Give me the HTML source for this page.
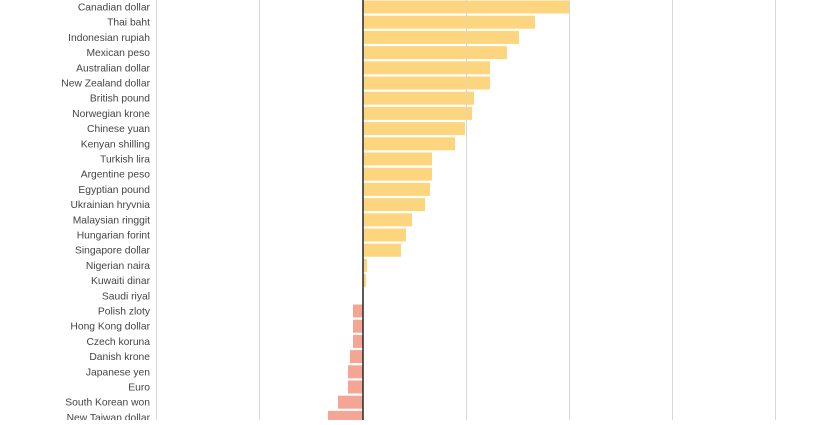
<!DOCTYPE html>
<html><head><meta charset="utf-8"><style>
body{margin:0;background:#fff;width:840px;height:420px;overflow:hidden;font-family:"Liberation Sans",sans-serif;}
</style></head><body>
<svg width="840" height="420" xmlns="http://www.w3.org/2000/svg" font-family="Liberation Sans, sans-serif" font-size="10.3" fill="#444">
<g stroke="#d6d6d6" stroke-width="1">
<line x1="156.5" y1="0" x2="156.5" y2="420"/><line x1="259.5" y1="0" x2="259.5" y2="420"/>
<line x1="466.5" y1="0" x2="466.5" y2="420"/><line x1="569.5" y1="0" x2="569.5" y2="420"/>
<line x1="672.5" y1="0" x2="672.5" y2="420"/><line x1="775.5" y1="0" x2="775.5" y2="420"/>
</g>
<g fill="#fdd57e">
<rect x="363" y="0.5" width="206" height="13"/>
<rect x="363" y="15.7" width="172" height="13"/>
<rect x="363" y="30.9" width="156" height="13"/>
<rect x="363" y="46.1" width="144" height="13"/>
<rect x="363" y="61.3" width="127" height="13"/>
<rect x="363" y="76.5" width="127" height="13"/>
<rect x="363" y="91.7" width="111" height="13"/>
<rect x="363" y="106.9" width="109" height="13"/>
<rect x="363" y="122.1" width="102" height="13"/>
<rect x="363" y="137.3" width="92" height="13"/>
<rect x="363" y="152.5" width="69" height="13"/>
<rect x="363" y="167.7" width="69" height="13"/>
<rect x="363" y="182.9" width="67" height="13"/>
<rect x="363" y="198.1" width="62" height="13"/>
<rect x="363" y="213.3" width="49" height="13"/>
<rect x="363" y="228.5" width="43" height="13"/>
<rect x="363" y="243.7" width="38" height="13"/>
<rect x="363" y="258.9" width="4" height="13"/>
<rect x="363" y="274.1" width="3" height="13"/>
<rect x="363" y="289.3" width="0.8" height="13"/>
</g>
<g fill="#f4a593">
<rect x="353" y="304.5" width="10" height="13"/>
<rect x="353" y="319.7" width="10" height="13"/>
<rect x="353" y="334.9" width="10" height="13"/>
<rect x="350" y="350.1" width="13" height="13"/>
<rect x="348" y="365.3" width="15" height="13"/>
<rect x="348" y="380.5" width="15" height="13"/>
<rect x="338" y="395.7" width="25" height="13"/>
<rect x="328" y="410.9" width="35" height="13"/>
</g>
<g stroke="#d6d6d6" stroke-width="1" opacity="0.5">
<line x1="466.5" y1="0" x2="466.5" y2="420"/><line x1="569.5" y1="0" x2="569.5" y2="420"/>
</g>
<g text-anchor="end">
<text x="150" y="10.5">Canadian dollar</text>
<text x="150" y="25.7">Thai baht</text>
<text x="150" y="40.9">Indonesian rupiah</text>
<text x="150" y="56.1">Mexican peso</text>
<text x="150" y="71.3">Australian dollar</text>
<text x="150" y="86.5">New Zealand dollar</text>
<text x="150" y="101.7">British pound</text>
<text x="150" y="116.9">Norwegian krone</text>
<text x="150" y="132.1">Chinese yuan</text>
<text x="150" y="147.3">Kenyan shilling</text>
<text x="150" y="162.5">Turkish lira</text>
<text x="150" y="177.7">Argentine peso</text>
<text x="150" y="192.9">Egyptian pound</text>
<text x="150" y="208.1">Ukrainian hryvnia</text>
<text x="150" y="223.3">Malaysian ringgit</text>
<text x="150" y="238.5">Hungarian forint</text>
<text x="150" y="253.7">Singapore dollar</text>
<text x="150" y="268.9">Nigerian naira</text>
<text x="150" y="284.1">Kuwaiti dinar</text>
<text x="150" y="299.3">Saudi riyal</text>
<text x="150" y="314.5">Polish zloty</text>
<text x="150" y="329.7">Hong Kong dollar</text>
<text x="150" y="344.9">Czech koruna</text>
<text x="150" y="360.1">Danish krone</text>
<text x="150" y="375.3">Japanese yen</text>
<text x="150" y="390.5">Euro</text>
<text x="150" y="405.7">South Korean won</text>
<text x="150" y="420.9">New Taiwan dollar</text>
</g>
<line x1="363" y1="0" x2="363" y2="420" stroke="#333" stroke-width="1.6"/>
</svg>
</body></html>
